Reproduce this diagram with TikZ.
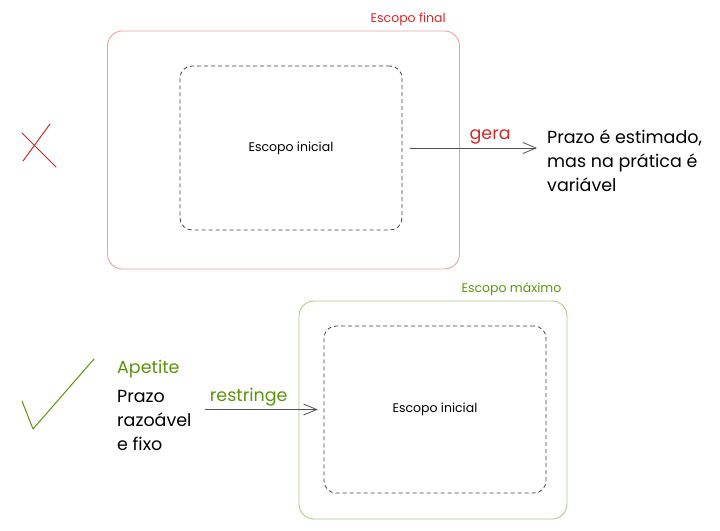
\documentclass[tikz,border=0pt]{standalone}
\usepackage{fontspec}
\setmainfont{Poppins}
\usetikzlibrary{arrows.meta,positioning}
\definecolor{redline}{HTML}{E8A2A2}
\definecolor{redtext}{HTML}{D02A2A}
\definecolor{greenline}{HTML}{A8C98A}
\definecolor{greentext}{HTML}{5C940D}
\definecolor{arrowgray}{HTML}{505050}
\tikzset{
  scopebox/.style={draw,rounded corners=15pt,line width=0.9pt,inner sep=0pt},
  startbox/.style={draw=black!75,dashed,dash pattern=on 4pt off 3pt,rounded corners=12pt,
    line width=0.8pt,minimum width=222pt,font=\fontsize{12.5}{15}\selectfont},
  smalltag/.style={font=\fontsize{12.5}{15}\selectfont,inner sep=2pt},
  bigtext/.style={font=\fontsize{17.5}{24}\selectfont,align=left,inner sep=0pt},
  flow/.style={draw=arrowgray,line width=0.8pt,-{Straight Barb[length=13pt,width=11pt]}},
}
\begin{document}
\begin{tikzpicture}[x=1pt,y=-1pt]
\useasboundingbox (0,0) rectangle (720,530);
% caso errado
\node[scopebox,draw=redline,minimum width=352pt,minimum height=238pt] (final) at (283.5,150) {};
\node[startbox,minimum height=164pt] (inicialA) at (291,148) {Escopo inicial};
\node[smalltag,text=redtext,anchor=south east] (finaltag) at ([xshift=-12pt,yshift=3pt]final.north east) {Escopo final};
\node[bigtext,anchor=west] (estimado) at (547,161) {Prazo é estimado,\\mas na prática é\\variável};
\coordinate (geraA) at ([xshift=8pt]inicialA.east);
\draw[flow] (geraA) -- ([xshift=-10pt]geraA -| estimado.west) node[pos=0.63,above=3pt,bigtext,text=redtext] (gera) {gera};
\draw[redtext,line width=1pt,line cap=round] (50,124) -- (23,161) (22,133) -- (56,167);
% caso certo
\node[scopebox,draw=greenline,minimum width=268pt,minimum height=218pt] (maximo) at (433,410) {};
\node[startbox,minimum height=167pt] (inicialB) at (435,409.5) {Escopo inicial};
\node[smalltag,text=greentext,anchor=south east] (maximotag) at ([xshift=-4pt,yshift=3pt]maximo.north east) {Escopo máximo};
\node[bigtext,anchor=west] (fixo) at (117,420) {Prazo\\razoável\\e fixo};
\node[bigtext,text=greentext,anchor=west] (apetite) at (117,369) {Apetite};
\coordinate (restA) at ([xshift=-119pt]inicialB.west);
\draw[flow] (restA) -- ([xshift=-6pt]inicialB.west) node[pos=0.39,above=3pt,bigtext,text=greentext] (restringe) {restringe};
\draw[greentext,line width=1pt,line cap=round,line join=round] (22,401) -- (33,429) -- (94,359);
\end{tikzpicture}
\end{document}
